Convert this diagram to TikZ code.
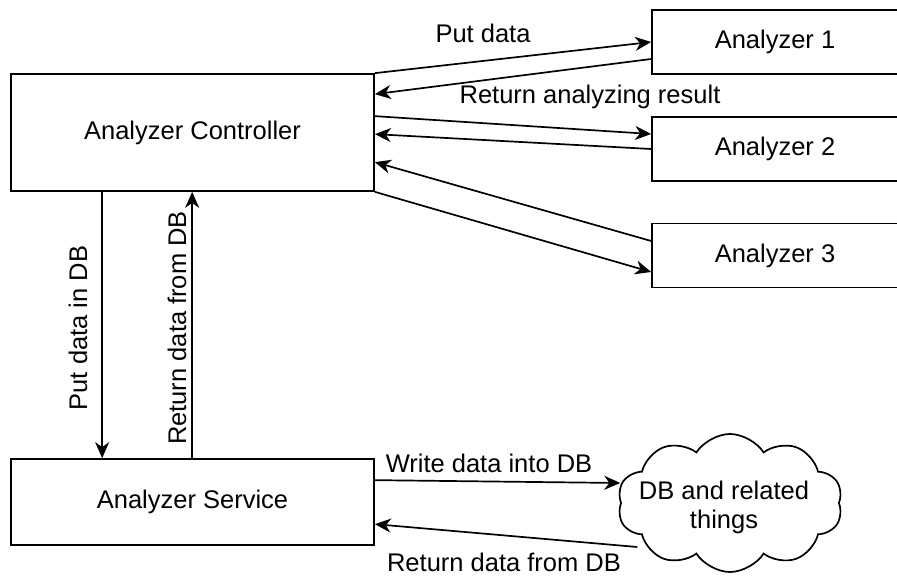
\documentclass[tikz,border=0pt]{standalone}
\usepackage{fontspec}
\setmainfont{Liberation Sans}
\usetikzlibrary{arrows.meta,shapes.symbols}
\begin{document}
\begin{tikzpicture}[x=1pt,y=1pt,
  box/.style={draw,line width=1.7pt,minimum width=363pt,minimum height=117pt,inner sep=0pt,font=\fontsize{25.5}{30}\selectfont},
  abox/.style={draw,line width=1.7pt,minimum width=246pt,minimum height=64pt,inner sep=0pt,font=\fontsize{25.5}{30}\selectfont},
  conn/.style={line width=1.7pt,-{Stealth[length=16pt,width=14pt,inset=5pt]}},
  lbl/.style={font=\fontsize{25.5}{30}\selectfont,inner sep=0pt}]
\useasboundingbox (0,0) rectangle (897,576);
\node[box] (ctrl) at (192.5,443.5) {Analyzer Controller};
\node[box,minimum height=86pt] (svc) at (192.5,74) {Analyzer Service};
\node[abox] (a1) at (775,534) {Analyzer 1};
\node[abox] (a2) at (775,427) {Analyzer 2};
\node[abox] (a3) at (775,320.5) {Analyzer 3};
\node[cloud,draw,line width=1.7pt,cloud puffs=10,cloud puff arc=115,aspect=1.6,
      minimum width=225pt,minimum height=138pt,inner sep=0pt] (db) at (730,73) {};
\node[lbl,align=center,font=\fontsize{25.5}{29}\selectfont] (dbt) at (724,69) {DB and related\\things};
% analyzer connectors
\draw[conn] (ctrl.north east) -- (a1.west);
\draw[conn] ([yshift=-17pt]a1.west) -- ([yshift=-21pt]ctrl.north east);
\draw[conn] ([yshift=-43pt]ctrl.north east) -- ([yshift=15pt]a2.west);
\draw[conn] (a2.west) -- ([yshift=-61pt]ctrl.north east);
\draw[conn] ([yshift=14.5pt]a3.west) -- ([yshift=-89pt]ctrl.north east);
\draw[conn] (ctrl.south east) -- ([yshift=-16.5pt]a3.west);
% vertical connectors
\draw[conn] ([xshift=92pt]ctrl.south west) -- ([xshift=92pt]svc.north west);
\draw[conn] ([xshift=182pt]svc.north west) -- ([xshift=182pt]ctrl.south west);
% db connectors
\draw[conn] ([yshift=-22pt]svc.north east) -- ([yshift=20pt]db.west);
\draw[conn] ([xshift=17pt,yshift=-44pt]db.west) -- ([yshift=-66pt]svc.north east);
% labels
\node[lbl] (l1) at (483,543) {Put data};
\node[lbl] (l2) at (590,479) {Return analyzing result};
\node[lbl,rotate=90] (l3) at (78,248) {Put data in DB};
\node[lbl,rotate=90] (l4) at (177,248) {Return data from DB};
\node[lbl] (l5) at (489,113) {Write data into DB};
\node[lbl] (l6) at (504,14) {Return data from DB};
\end{tikzpicture}
\end{document}
